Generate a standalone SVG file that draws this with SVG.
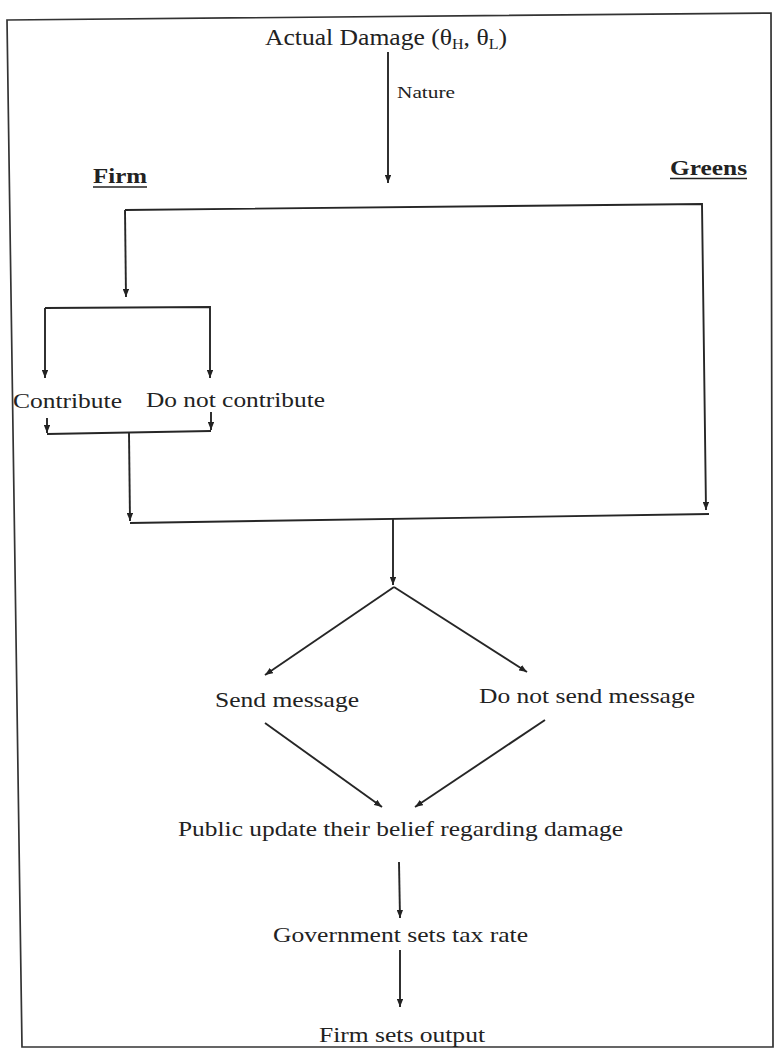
<svg xmlns="http://www.w3.org/2000/svg" width="774" height="1049" viewBox="0 0 774 1049">
<defs>
<style>
.t{font-family:"Liberation Serif","Times New Roman",serif;fill:#222;}
.b{font-weight:bold;}
.c{fill:none;stroke:#262626;stroke-width:1.9;}
.a{marker-end:url(#ah);}
.u{stroke:#222;stroke-width:1.7;}
</style>
<marker id="ah" viewBox="0 0 10 8" refX="10" refY="4" markerWidth="8" markerHeight="6.4" markerUnits="userSpaceOnUse" orient="auto">
<path d="M0,0 L10,4 L0,8 z" fill="#222"/>
</marker>
</defs>
<rect x="0" y="0" width="774" height="1049" fill="#fff"/>
<path d="M7,20 L771,13 L773,1047 L22,1047 Z" fill="none" stroke="#333" stroke-width="1.7"/>

<g id="connectors">
<path class="c a" d="M388,52 L388,183"/>
<path class="c a" d="M125,210 L126,297"/>
<path class="c a" d="M125,210 L702,204 L706,510"/>
<path class="c a" d="M45,308 L45,378"/>
<path class="c a" d="M45,308 L210,307 L210,378"/>
<path class="c a" d="M47,418 L47,433"/>
<path class="c a" d="M211,412 L211,430"/>
<path class="c" d="M47,434 L211,431"/>
<path class="c a" d="M129,433 L130,521"/>
<path class="c" d="M130,523 L709,514"/>
<path class="c a" d="M393,519 L393,585"/>
<path class="c a" d="M394,587 L265,675"/>
<path class="c a" d="M394,587 L527,672"/>
<path class="c a" d="M265,723 L382,807"/>
<path class="c a" d="M545,720 L415,807"/>
<path class="c a" d="M399,862 L400,918"/>
<path class="c a" d="M400,950 L400,1007"/>
</g>

<g id="actual-damage">
<text class="t" x="265" y="45" font-size="24" textLength="242" lengthAdjust="spacingAndGlyphs">Actual Damage (θ<tspan font-size="15" dy="4">H</tspan><tspan dy="-4">, θ</tspan><tspan font-size="15" dy="4">L</tspan><tspan dy="-4">)</tspan></text>
</g>
<g id="nature">
<text class="t" x="397" y="98" font-size="17" textLength="58" lengthAdjust="spacingAndGlyphs">Nature</text>
</g>
<g id="firm">
<text class="t b" x="93" y="183" font-size="22" textLength="54" lengthAdjust="spacingAndGlyphs">Firm</text>
<line class="u" x1="93" y1="187" x2="147" y2="187"/>
</g>
<g id="greens">
<text class="t b" x="670" y="175" font-size="22" textLength="77" lengthAdjust="spacingAndGlyphs">Greens</text>
<line class="u" x1="670" y1="178.5" x2="747" y2="178.5"/>
</g>
<g id="contribute">
<text class="t" x="13" y="408" font-size="22" textLength="109" lengthAdjust="spacingAndGlyphs">Contribute</text>
</g>
<g id="do-not-contribute">
<text class="t" x="146" y="407" font-size="22" textLength="179" lengthAdjust="spacingAndGlyphs">Do not contribute</text>
</g>
<g id="send-message">
<text class="t" x="215" y="707" font-size="22" textLength="144" lengthAdjust="spacingAndGlyphs">Send message</text>
</g>
<g id="do-not-send-message">
<text class="t" x="479" y="703" font-size="22" textLength="216" lengthAdjust="spacingAndGlyphs">Do not send message</text>
</g>
<g id="public-update">
<text class="t" x="178" y="836" font-size="22" textLength="445" lengthAdjust="spacingAndGlyphs">Public update their belief regarding damage</text>
</g>
<g id="government">
<text class="t" x="273" y="942" font-size="22" textLength="255" lengthAdjust="spacingAndGlyphs">Government sets tax rate</text>
</g>
<g id="firm-output">
<text class="t" x="319" y="1042" font-size="22" textLength="166" lengthAdjust="spacingAndGlyphs">Firm sets output</text>
</g>
</svg>
